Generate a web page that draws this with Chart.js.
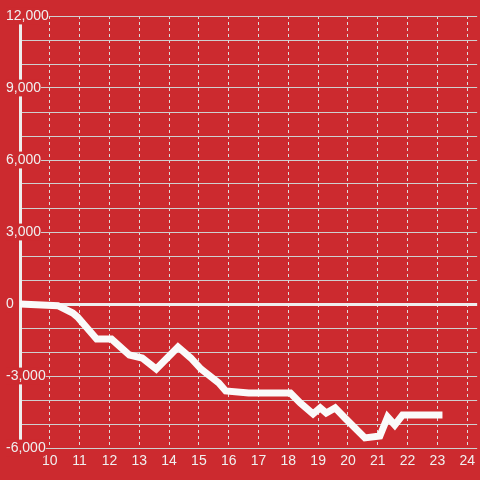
<!DOCTYPE html>
<html>
<head>
<meta charset="utf-8">
<script src="https://cdn.jsdelivr.net/npm/chart.js@4/dist/chart.umd.min.js"></script>
<style>
  html, body { margin: 0; padding: 0; background: #cc2a2f; }
  #wrap { width: 480px; height: 480px; }
</style>
</head>
<body>
<div id="wrap"><canvas id="chart"></canvas></div>
<script>
const red = '#cc2a2f';
const light = '#f0f0f0';
const gridColor = '#cfcfcf';

// hour of day -> running total
const xs = [9, 10.27, 10.77, 10.93, 11.57, 12.07, 12.67, 13.1, 13.57, 14.3, 14.73, 15.07, 15.67, 15.9,
  16.67, 18.07, 18.4, 18.83, 19.07, 19.27, 19.57, 19.9, 20.57, 21.07, 21.33, 21.57, 21.83, 23.17];
const ys = [0, -70, -375, -540, -1460, -1460, -2125, -2250, -2710, -1790, -2250, -2710, -3290, -3625,
  -3710, -3710, -4125, -4580, -4330, -4540, -4330, -4750, -5580, -5500, -4710, -5040, -4625, -4625];
const xTicks = [10, 11, 12, 13, 14, 15, 16, 17, 18, 19, 20, 21, 22, 23, 24];
const yLabels = [-6000, -3000, 0, 3000, 6000, 9000, 12000];

Chart.defaults.font.family = "'Liberation Sans', Arial, sans-serif";
Chart.defaults.font.size = 14;
Chart.defaults.color = light;

new Chart(document.getElementById('chart').getContext('2d'), {
  type: 'line',
  data: {
    datasets: [{
      data: xs.map((x, i) => ({ x: x, y: ys[i] })),
      borderColor: '#fafafa',
      borderWidth: 7,
      pointRadius: 0,
      tension: 0,
      fill: false
    }]
  },
  options: {
    animation: false,
    responsive: true,
    maintainAspectRatio: false,
    layout: { padding: { top: 16, left: 5, right: 0, bottom: 0 } },
    plugins: { legend: { display: false }, tooltip: { enabled: false } },
    scales: {
      x: {
        type: 'linear',
        min: 9,
        max: 24 + 1 / 3,
        afterBuildTicks: s => { s.ticks = xTicks.map(v => ({ value: v })); },
        afterFit: s => { s.height = 32; },
        ticks: { padding: 5, autoSkip: false, maxRotation: 0, color: light },
        grid: { color: '#dddddd', lineWidth: 1, drawTicks: false },
        border: { display: false, dash: [3, 3] }
      },
      y: {
        min: -6000,
        max: 12000,
        ticks: {
          stepSize: 1000,
          autoSkip: false,
          mirror: true,
          crossAlign: 'near',
          padding: -14,
          color: light,
          showLabelBackdrop: ctx => yLabels.includes(ctx.tick.value),
          backdropColor: red,
          // keep the bottom label's backdrop off the x labels
          backdropPadding: ctx => ctx.tick.value === -6000 ? { top: 2, bottom: -4, left: 2, right: 2 } : 2,
          callback: v => yLabels.includes(v) ? v.toLocaleString('en-US') : ''
        },
        afterFit: s => { s.width = 15; },
        grid: {
          drawTicks: false,
          color: ctx => ctx.tick && ctx.tick.value === 0 ? '#eeeeee' : gridColor,
          lineWidth: ctx => ctx.tick && ctx.tick.value === 0 ? 3 : 1
        },
        border: { display: true, color: '#eeeeee', width: 3 }
      }
    }
  }
});
</script>
</body>
</html>
